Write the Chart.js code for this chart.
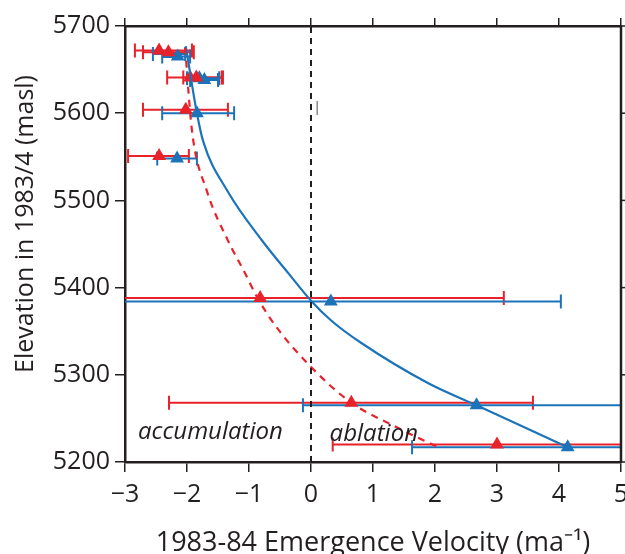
<!DOCTYPE html>
<html>
<head>
<meta charset="utf-8">
<script src="https://cdn.jsdelivr.net/npm/chart.js@4.4.1/dist/chart.umd.min.js"></script>
<style>
  html, body { margin: 0; padding: 0; background: #fff; overflow: hidden; }
  #wrap { width: 625px; height: 554px; }
  canvas { display: block; }
</style>
</head>
<body>
<div id="wrap"><canvas id="chart" width="625" height="554"></canvas></div>
<script>
// 1983/4 survey (red) and revised (blue) emergence velocities
const redVel   = [-2.45, -2.3, -1.95, -1.85, -2.02, -2.45, -0.82, 0.65, 3.0];
const redElev  = [5672, 5670, 5641, 5641, 5604, 5551, 5388, 5268, 5220];
const redLo    = [-2.84, -2.71, -2.32, -2.06, -2.71, -2.95, -3.6, -2.29, 0.35];
const redHi    = [-1.92, -1.89, -1.44, -1.42, -1.34, -1.97, 3.11, 3.58, 5.6];

const blueVel  = [-2.3, -2.15, -1.8, -1.72, -1.84, -2.16, 0.32, 2.67, 4.14];
const blueElev = [5668, 5665, 5640, 5638, 5600, 5548, 5384, 5265, 5217];
const blueLo   = [-2.55, -2.4, -2.0, -1.95, -2.4, -2.48, -3.6, -0.13, 1.63];
const blueHi   = [-2.03, -1.95, -1.48, -1.5, -1.24, -1.84, 4.03, 5.6, 5.6];

// fitted curves
const blueFitVel  = [-2.02, -1.84, -1.74, -1.35, -0.79, -0.36, 0.0, 0.33, 0.8, 1.9, 2.67, 4.14];
const blueFitElev = [5677, 5600, 5568, 5511, 5454, 5416, 5385, 5362, 5337, 5290, 5265, 5217];
const redFitVel   = [-2.03, -1.92, -1.68, -1.34, -1.06, -0.87, -0.55, 0.0, 0.65, 1.32, 2.08];
const redFitElev  = [5675, 5580, 5511, 5454, 5416, 5389, 5354, 5309, 5268, 5242, 5216];

const xTicks = [-3, -2, -1, 0, 1, 2, 3, 4, 5];
const yTicks = [5200, 5300, 5400, 5500, 5600, 5700];

const RED = '#e8222b';
const BLUE = '#1b74ba';
const INK = '#231f20';
const FONT = "'Open Sans', sans-serif";

function pts(xs, ys) {
    return xs.map((x, i) => ({ x: x, y: ys[i] }));
}

// no label overflow padding, so the plot box ends where the layout says
function noSidePadding(s) {
    s.paddingLeft = 0;
    s.paddingRight = 0;
}

const errorBars = {
    id: 'errorBars',
    beforeDatasetsDraw(chart) {
        const ctx = chart.ctx;
        const xs = chart.scales.x, ys = chart.scales.y;
        const area = chart.chartArea;
        ctx.save();
        ctx.beginPath();
        ctx.rect(area.left, area.top - 10, area.right - area.left, area.bottom - area.top + 20);
        ctx.clip();
        const sets = [
            [redLo, redHi, redElev, RED],
            [blueLo, blueHi, blueElev, BLUE]
        ];
        sets.forEach(s => {
            ctx.strokeStyle = s[3];
            ctx.lineWidth = 2;
            s[2].forEach((e, i) => {
                const y = ys.getPixelForValue(e);
                const x1 = xs.getPixelForValue(s[0][i]);
                const x2 = xs.getPixelForValue(s[1][i]);
                ctx.beginPath();
                ctx.moveTo(x1, y); ctx.lineTo(x2, y);
                ctx.moveTo(x1, y - 7); ctx.lineTo(x1, y + 7);
                ctx.moveTo(x2, y - 7); ctx.lineTo(x2, y + 7);
                ctx.stroke();
            });
        });
        ctx.restore();
    },
    afterDraw(chart) {
        const ctx = chart.ctx;
        const xs = chart.scales.x, ys = chart.scales.y;
        const area = chart.chartArea;
        ctx.save();
        // right frame with outward ticks
        ctx.strokeStyle = INK;
        ctx.lineWidth = 2.5;
        ctx.beginPath();
        ctx.moveTo(area.right, area.top - 1);
        ctx.lineTo(area.right, area.bottom + 1);
        ctx.stroke();
        ctx.lineWidth = 1.5;
        yTicks.forEach(v => {
            const y = ys.getPixelForValue(v);
            ctx.beginPath();
            ctx.moveTo(area.right, y);
            ctx.lineTo(area.right + 8, y);
            ctx.stroke();
        });
        ctx.fillStyle = INK;
        ctx.font = "italic 24px " + FONT;
        ctx.textBaseline = 'alphabetic';
        ctx.textAlign = 'left';
        ctx.fillText('accumulation', xs.getPixelForValue(-2.79), ys.getPixelForValue(5226));
        ctx.fillText('ablation', xs.getPixelForValue(0.3), ys.getPixelForValue(5224));
        // y axis title
        ctx.font = "25px " + FONT;
        ctx.textAlign = 'center';
        ctx.textBaseline = 'middle';
        ctx.translate(26, 224);
        ctx.rotate(-Math.PI / 2);
        ctx.fillText('Elevation in 1983/4 (masl)', 0, 0);
        ctx.restore();
    }
};

new Chart(document.getElementById('chart'), {
    type: 'scatter',
    data: {
        datasets: [
            {
                data: [{ x: 0, y: 5200 }, { x: 0, y: 5700 }],
                showLine: true, borderColor: INK, borderWidth: 2,
                borderDash: [6, 5], pointRadius: 0
            },
            {
                data: [{ x: 0.1, y: 5598 }, { x: 0.1, y: 5614 }],
                showLine: true, borderColor: '#8a8a8a', borderWidth: 1.5, pointRadius: 0
            },
            {
                data: pts(redFitVel, redFitElev),
                showLine: true, borderColor: RED, borderWidth: 2.2,
                borderDash: [7, 6], pointRadius: 0, cubicInterpolationMode: 'monotone'
            },
            {
                data: pts(blueFitVel, blueFitElev),
                showLine: true, borderColor: BLUE, borderWidth: 2.2,
                pointRadius: 0, cubicInterpolationMode: 'monotone'
            },
            {
                data: pts(redVel, redElev),
                pointStyle: 'triangle', pointRadius: 8,
                backgroundColor: RED, borderColor: RED, borderWidth: 0
            },
            {
                data: pts(blueVel, blueElev),
                pointStyle: 'triangle', pointRadius: 8,
                backgroundColor: BLUE, borderColor: BLUE, borderWidth: 0
            }
        ]
    },
    options: {
        responsive: false,
        animation: false,
        layout: { autoPadding: false, padding: { top: 18, right: 4, left: 0, bottom: 0 } },
        plugins: { legend: { display: false }, tooltip: { enabled: false } },
        scales: {
            x: {
                type: 'linear', min: -3, max: 5,
                afterBuildTicks: s => { s.ticks = xTicks.map(v => ({ value: v })); },
                afterFit: s => { s.height = 92; noSidePadding(s); },
                border: { display: true, color: INK, width: 2.5 },
                grid: { drawOnChartArea: false, color: INK, tickLength: 10, lineWidth: 1.5 },
                ticks: {
                    color: INK, padding: 8,
                    font: { family: FONT, size: 25 },
                    callback: v => String(v).replace('-', '\u2212')
                },
                title: {
                    display: true, text: '1983-84 Emergence Velocity (ma\u207B\u00B9)',
                    color: INK, font: { family: FONT, size: 27 },
                    padding: { top: 0, bottom: -6 }
                }
            },
            y: {
                type: 'linear', min: 5200, max: 5700,
                afterBuildTicks: s => { s.ticks = yTicks.map(v => ({ value: v })); },
                afterFit: s => { s.width = 125; s.paddingTop = 0; s.paddingBottom = 0; },
                border: { display: true, color: INK, width: 2.5 },
                grid: { drawOnChartArea: false, color: INK, tickLength: 10, lineWidth: 1.5 },
                ticks: {
                    color: INK, padding: 5,
                    font: { family: FONT, size: 25 },
                    callback: v => String(v)
                }
            },
            x2: {
                type: 'linear', position: 'top', min: -3, max: 5,
                afterBuildTicks: s => { s.ticks = xTicks.map(v => ({ value: v })); },
                afterFit: s => { s.height = 8; noSidePadding(s); },
                border: { display: true, color: INK, width: 2.5 },
                grid: { drawOnChartArea: false, color: INK, tickLength: 8, lineWidth: 1.5 },
                ticks: { display: false }
            }
        }
    },
    plugins: [errorBars]
});
</script>
</body>
</html>
